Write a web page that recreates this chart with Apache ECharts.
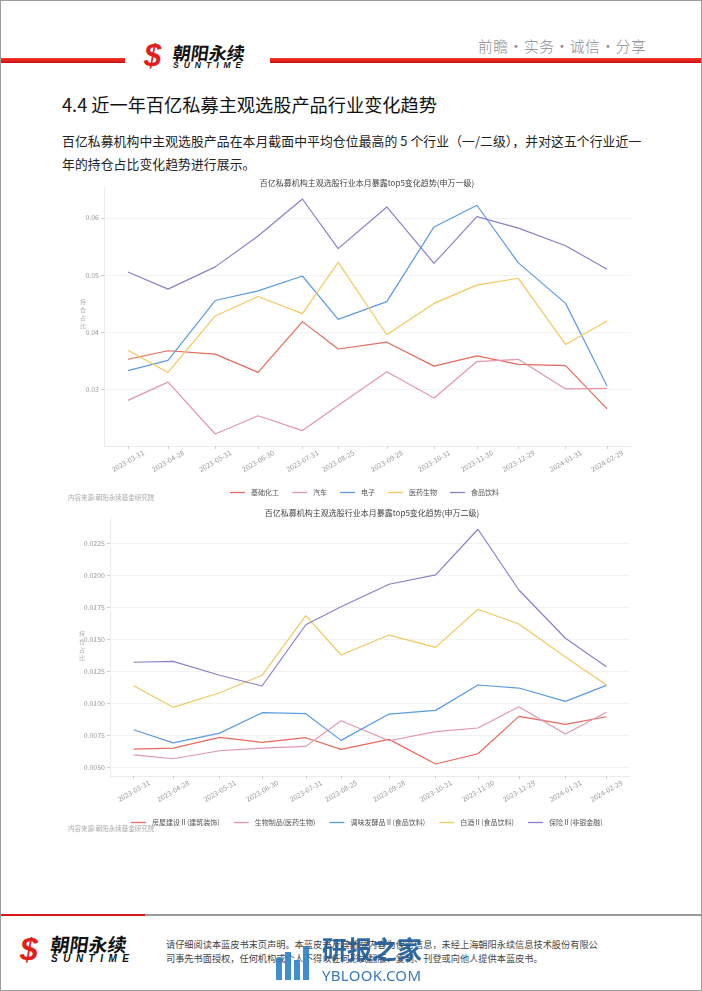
<!DOCTYPE html>
<html><head><meta charset="utf-8">
<script src="https://cdn.jsdelivr.net/npm/echarts@6/dist/echarts.min.js"></script>
<style>
html,body{margin:0;padding:0;background:#fff}
body{width:702px;height:991px;position:relative;overflow:hidden;font-family:"Noto Sans CJK SC","Noto Sans",sans-serif}
.abs{position:absolute;white-space:nowrap}
.lh{line-height:1}
#chart{position:absolute;left:0;top:0;width:702px;height:991px;z-index:2}
</style></head>
<body>
<div class="abs" style="left:0;top:0;width:700px;height:989px;border:1px solid #9c9c9c"></div>
<!-- header -->
<div class="abs" style="left:1px;top:58px;width:124px;height:5px;background:linear-gradient(#f03a2a,#d10d0d)"></div>
<div class="abs" style="left:270px;top:58px;width:431px;height:5px;background:linear-gradient(#f03a2a,#d10d0d)"></div>
<div class="abs lh" style="left:144px;top:38px;font:italic bold 31px 'Liberation Sans';color:#e31d1a">$</div>
<div class="abs lh" style="left:173px;top:39px;font:bold 18px 'Noto Sans CJK SC';color:#111;transform:skewX(-8deg)">朝阳永续</div>
<div class="abs lh" style="left:173px;top:60px;font:italic bold 8.5px 'Liberation Sans';color:#111;letter-spacing:5px">SUNTIME</div>
<div class="abs" style="left:478px;top:35px;font:300 14.8px 'Noto Sans CJK SC';color:#8c8c8c;letter-spacing:0.5px">前瞻·实务·诚信·分享</div>
<!-- heading & paragraph -->
<div class="abs" style="left:62px;top:91px;font:400 18.2px 'Noto Sans CJK SC';color:#111">4.4 近一年百亿私募主观选股产品行业变化趋势</div>
<div class="abs" style="left:62px;top:131px;font:400 12.8px 'Noto Sans CJK SC';color:#222;letter-spacing:0.1px">百亿私募机构中主观选股产品在本月截面中平均仓位最高的 5 个行业（一/二级），并对这五个行业近一</div>
<div class="abs" style="left:62px;top:154px;font:400 12.8px 'Noto Sans CJK SC';color:#222;letter-spacing:0.1px">年的持仓占比变化趋势进行展示。</div>
<!-- footer -->
<div class="abs" style="left:1px;top:914px;width:144px;height:2px;background:#d8171a"></div>
<div class="abs" style="left:145px;top:914px;width:556px;height:2px;background:#9a9a9a"></div>
<div class="abs lh" style="left:20px;top:931px;font:italic bold 32px 'Liberation Sans';color:#e31d1a">$</div>
<div class="abs lh" style="left:51px;top:930px;font:bold 19px 'Noto Sans CJK SC';color:#111;transform:skewX(-8deg)">朝阳永续</div>
<div class="abs lh" style="left:51px;top:953px;font:italic bold 10px 'Liberation Sans';color:#111;letter-spacing:5.5px">SUNTIME</div>
<div class="abs" style="left:166px;top:937px;font:9.2px 'Noto Sans CJK SC';color:#444">请仔细阅读本蓝皮书末页声明。本蓝皮书及其所载内容为保密信息，未经上海朝阳永续信息技术股份有限公</div>
<div class="abs" style="left:166px;top:951px;font:9.2px 'Noto Sans CJK SC';color:#444">司事先书面授权，任何机构或个人不得以任何形式翻版、复制、刊登或向他人提供本蓝皮书。</div>
<!-- watermark -->
<div class="abs" style="left:276px;top:958px;width:6px;height:22px;background:#2b82c9;opacity:.9;z-index:3"></div>
<div class="abs" style="left:285px;top:952px;width:6px;height:28px;background:#2b82c9;opacity:.9;z-index:3"></div>
<div class="abs" style="left:294px;top:960px;width:6px;height:20px;background:#2b82c9;opacity:.9;z-index:3"></div>
<div class="abs" style="left:303px;top:946px;width:6px;height:34px;background:#2b82c9;opacity:.9;z-index:3"></div>
<div class="abs" style="left:322px;top:930px;font:bold 25px 'Noto Sans CJK SC';color:#1f5d99;opacity:.92;z-index:3">研报之家</div>
<div class="abs" style="left:322px;top:965px;font:15px 'Noto Sans';color:#2a6fb0;opacity:.92;z-index:3;letter-spacing:0.3px">YBLOOK.COM</div>
<div id="chart"></div>
<script>
// ---------- data ----------
const dates = ['2023-03-31','2023-04-28','2023-05-31','2023-06-30','2023-07-31','2023-08-25','2023-09-28','2023-10-31','2023-11-30','2023-12-29','2024-01-31','2024-02-29'];

const names1 = ['基础化工','汽车','电子','医药生物','食品饮料'];
const jichuhuagong = [0.0352,0.0367,0.0361,0.0329,0.0418,0.0370,0.0382,0.0340,0.0358,0.0343,0.0341,0.0265];
const qiche       = [0.0280,0.0312,0.0221,0.0253,0.0227,0.0271,0.0330,0.0284,0.0348,0.0352,0.0300,0.0301];
const dianzi      = [0.0332,0.0350,0.0455,0.0472,0.0498,0.0422,0.0453,0.0584,0.0622,0.0521,0.0450,0.0305];
const yiyao       = [0.0368,0.0329,0.0428,0.0462,0.0432,0.0522,0.0395,0.0450,0.0482,0.0494,0.0378,0.0419];
const shipin      = [0.0505,0.0475,0.0514,0.0568,0.0633,0.0546,0.0619,0.0520,0.0602,0.0582,0.0551,0.0510];
const yTicks1 = [0.03,0.04,0.05,0.06];

const names2 = ['房屋建设Ⅱ(建筑装饰)','生物制品(医药生物)','调味发酵品Ⅱ(食品饮料)','白酒Ⅱ(食品饮料)','保险Ⅱ(非银金融)'];
const fangwu   = [0.00641,0.00649,0.00733,0.00694,0.00730,0.00639,0.00717,0.00524,0.00604,0.00897,0.00835,0.00894];
const shengwu  = [0.00596,0.00565,0.00628,0.00649,0.00662,0.00863,0.00706,0.00777,0.00806,0.00973,0.00759,0.00929];
const tiaowei  = [0.00792,0.00690,0.00766,0.00926,0.00918,0.00709,0.00915,0.00944,0.01143,0.01119,0.01015,0.01140];
const baijiu   = [0.01137,0.00968,0.01082,0.01219,0.01686,0.01378,0.01534,0.01438,0.01736,0.01621,0.01362,0.01143];
const baoxian  = [0.01321,0.01328,0.01219,0.01135,0.01615,0.01756,0.01932,0.02005,0.02363,0.01887,0.01509,0.01286];
const yTicks2 = [0.0050,0.0075,0.0100,0.0125,0.0150,0.0175,0.0200,0.0225];

const colors = ['#E8695B','#E396AE','#5A9BE6','#F2C95E','#8A80C8'];
const title1 = '百亿私募机构主观选股行业本月暴露top5变化趋势(申万一级)';
const title2 = '百亿私募机构主观选股行业本月暴露top5变化趋势(申万二级)';
const source = '内容来源:朝阳永续基金研究院';
const yName = '持\n仓\n占\n比';

// ---------- chart ----------
const FF = '"Noto Sans CJK SC","Noto Sans",sans-serif';
const DAY = 86400000;
const ts = dates.map(d => echarts.number.parseDate(d).getTime());
const xPad = 16.75 * DAY;

function mkX(gi){
  return {
    type:'value', gridIndex:gi, min: ts[0]-xPad, max: ts[ts.length-1]+xPad,
    axisLine:{show:true,lineStyle:{color:'#ebebeb',width:1}},
    axisTick:{show:true,length:3,customValues:ts,lineStyle:{color:'#d0d0d0'}},
    axisLabel:{customValues:ts,rotate:30,align:'center',verticalAlign:'middle',margin:15,
      fontSize:7,color:'#9a9a9a',fontFamily:FF,hideOverlap:false,
      formatter:v=>{let b=0,bd=Infinity;ts.forEach((t,i)=>{const d=Math.abs(t-v);if(d<bd){bd=d;b=i;}});return dates[b];}},
    splitLine:{show:false}
  };
}
function mkY(gi,min,max,ticks,dec){
  return {
    type:'value', gridIndex:gi, min, max,
    axisLine:{show:true,lineStyle:{color:'#ebebeb',width:1}},
    axisTick:{show:true,length:3,customValues:ticks,lineStyle:{color:'#cfcfcf'}},
    axisLabel:{customValues:ticks,margin:5,fontSize:7,color:'#9a9a9a',fontFamily:FF,formatter:v=>v.toFixed(dec)},
    splitLine:{show:true,lineStyle:{color:'#f2f2f2',width:1}}
  };
}
function mkSeries(name,vals,ci,gi){
  return {type:'line',name,xAxisIndex:gi,yAxisIndex:gi,symbol:'none',smooth:false,
    lineStyle:{width:1.2,color:colors[ci]},itemStyle:{color:colors[ci]},
    data:vals.map((v,i)=>[ts[i],v])};
}
function txt(x,y,text,size,fill,align){
  return {type:'text',x,y,style:{text,fontSize:size,fontFamily:FF,fill,align:align||'left',verticalAlign:'middle'}};
}
const legendBase = {orient:'horizontal',icon:'rect',itemWidth:15,itemHeight:1.3,textStyle:{fontSize:7,color:'#555',fontFamily:FF,padding:[0,0,0,1]}};

const option = {
  animation:false,
  grid:[
    {left:104,top:187,width:527,height:259},
    {left:110,top:517.5,width:520,height:258.5}
  ],
  xAxis:[mkX(0),mkX(1)],
  yAxis:[mkY(0,0.02,0.0654,yTicks1,2),mkY(1,0.0043,0.02455,yTicks2,4)],
  legend:[
    Object.assign({},legendBase,{left:225,top:484,itemGap:13,data:names1}),
    Object.assign({},legendBase,{left:126,top:814,itemGap:14,data:names2})
  ],
  series:[
    mkSeries(names1[0],jichuhuagong,0,0),
    mkSeries(names1[1],qiche,1,0),
    mkSeries(names1[2],dianzi,2,0),
    mkSeries(names1[3],yiyao,3,0),
    mkSeries(names1[4],shipin,4,0),
    mkSeries(names2[0],fangwu,0,1),
    mkSeries(names2[1],shengwu,1,1),
    mkSeries(names2[2],tiaowei,2,1),
    mkSeries(names2[3],baijiu,3,1),
    mkSeries(names2[4],baoxian,4,1)
  ],
  graphic:[
    txt(367,183,title1,8,'#444','center'),
    txt(372,513,title2,8,'#444','center'),
    txt(68,498,source,6.5,'#aaa'),
    txt(68,829,source,6.5,'#aaa'),
    {type:'text',x:80,y:298,style:{text:yName,fontSize:6,lineHeight:8,fontFamily:FF,fill:'#b0b0b0',align:'left',verticalAlign:'top'}},
    {type:'text',x:79,y:630,style:{text:yName,fontSize:6,lineHeight:8,fontFamily:FF,fill:'#b0b0b0',align:'left',verticalAlign:'top'}}
  ]
};
const chart = echarts.init(document.getElementById('chart'),null,{renderer:'canvas'});
chart.setOption(option);
</script>
</body></html>
